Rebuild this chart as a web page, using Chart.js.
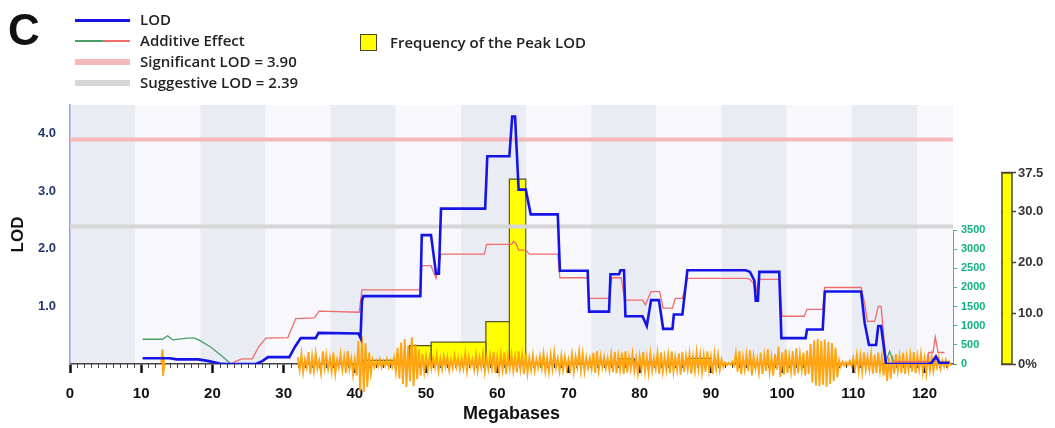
<!DOCTYPE html>
<html>
<head>
<meta charset="utf-8">
<script src="https://cdn.jsdelivr.net/npm/chart.js@4.4.0/dist/chart.umd.min.js"></script>
<style>
  body { margin: 0; background: #fff; }
  #wrap { position: relative; width: 1055px; height: 428px; }
  #qtlChart { position: absolute; left: 0; top: 0; }
  .panel { position: absolute; left: 8px; top: 8px; font: bold 44px "Liberation Sans", Arial, sans-serif; line-height: 44px; color: #111; }
  .key { position: absolute; left: 140px; font: 600 15px "Open Sans", sans-serif; line-height: 21px; color: #222; white-space: nowrap; }
  .swatch { position: absolute; left: 75px; width: 55px; }
  .box { position: absolute; left: 360px; top: 34px; width: 15px; height: 15px; background: #ffff00; border: 1.5px solid #4a4a22; }
</style>
</head>
<body>
<div id="wrap">
  <canvas id="qtlChart" width="1055" height="428"></canvas>
  <div class="panel">C</div>
  <div class="swatch" style="top:19px;height:3px;background:#1414e6"></div>
  <div class="key" style="top:9px">LOD</div>
  <div class="swatch" style="top:40px;height:2px;background:linear-gradient(to right,#4b9e68 50%,#ef6b6b 50%)"></div>
  <div class="key" style="top:30px">Additive Effect</div>
  <div class="swatch" style="top:59px;height:6px;background:#f6b8b8"></div>
  <div class="key" style="top:51px">Significant LOD = 3.90</div>
  <div class="swatch" style="top:80px;height:6px;background:#d6d6d6"></div>
  <div class="key" style="top:72px">Suggestive LOD = 2.39</div>
  <div class="box"></div>
  <div class="key" style="left:390px;top:32px">Frequency of the Peak LOD</div>
</div>
<script>
// values
const xTicks = [0, 10, 20, 30, 40, 50, 60, 70, 80, 90, 100, 110, 120];
const lodTicks = [1, 2, 3, 4];
const effectTicks = [0, 500, 1000, 1500, 2000, 2500, 3000, 3500];
const freqTicks = [0, 10, 20, 30, 37.5];
const significantLod = 3.90;
const suggestiveLod = 2.39;

// alternating background bins (Mb)
const bandEdges = [0, 9.15, 18.3, 27.45, 36.6, 45.75, 54.9, 64.05, 73.2, 82.35, 91.5, 100.65, 109.8, 118.95, 124];

// LOD profile [Mb, LOD]
const lodTrace = [
  [10.2, 0.10], [14.0, 0.10], [15.0, 0.08], [18.0, 0.08], [19.5, 0.05], [21.0, 0.01], [22.0, 0],
  [26.1, 0], [27.0, 0.05], [27.8, 0.12], [30.8, 0.12], [31.6, 0.30], [32.4, 0.45], [34.5, 0.45],
  [34.9, 0.54], [40.5, 0.53], [40.8, 0.45], [41.0, 1.10], [41.2, 1.18], [49.2, 1.18], [49.4, 2.24],
  [50.7, 2.24], [51.4, 1.57], [51.8, 1.57], [52.1, 2.70], [58.3, 2.70], [58.6, 3.61], [61.7, 3.61],
  [62.1, 4.30], [62.5, 4.30], [63.0, 3.03], [64.0, 3.03], [64.7, 2.60], [68.5, 2.60], [68.8, 1.62],
  [72.7, 1.62], [72.9, 0.91], [75.7, 0.91], [75.9, 1.56], [77.1, 1.56], [77.3, 1.63], [77.8, 1.63],
  [78.0, 0.83], [80.4, 0.83], [81.0, 0.66], [81.6, 1.11], [82.7, 1.11], [83.3, 0.61], [84.6, 0.61],
  [84.8, 0.86], [86.0, 0.86], [86.7, 1.63], [94.9, 1.63], [95.5, 1.60], [96.1, 1.45], [96.3, 1.10],
  [96.6, 1.10], [96.8, 1.60], [99.6, 1.60], [99.9, 0.45], [103.3, 0.45], [103.5, 0.60], [105.7, 0.60],
  [106.0, 1.26], [111.1, 1.26], [111.6, 0.71], [112.2, 0.33], [113.2, 0.33], [113.5, 0.66], [113.9, 0.66],
  [114.6, 0], [120.4, 0], [121.0, 0.02], [121.6, 0.13], [122.1, 0.02], [123.5, 0.02]
];

// additive effect [Mb, effect]
const additiveTrace = [
  [10.2, 646], [13.0, 646], [13.7, 736], [14.4, 631], [16.5, 676], [17.5, 676], [18.2, 616],
  [19.8, 436], [21.4, 195], [22.6, 0], [23.5, 90], [24.2, 135], [25.6, 135], [26.5, 450],
  [27.5, 676], [30.6, 691], [31.7, 1187], [34.3, 1202], [35.0, 1382], [40.6, 1352], [41.0, 1937],
  [49.2, 1937], [49.4, 2568], [50.7, 2568], [51.4, 2238], [52.1, 2869], [58.2, 2869], [58.5, 3124],
  [62.0, 3124], [62.3, 3199], [62.6, 3154], [63.0, 2974], [64.0, 2974], [64.5, 2869], [68.5, 2869],
  [68.8, 2253], [72.7, 2253], [72.9, 1712], [75.7, 1712], [76.1, 2253], [77.4, 2253], [77.9, 1667],
  [80.4, 1667], [80.8, 1547], [81.6, 1893], [82.8, 1893], [83.3, 1457], [84.6, 1457], [85.0, 1712],
  [86.0, 1712], [86.7, 2238], [95.0, 2238], [95.5, 2208], [96.0, 2103], [96.3, 1847], [96.6, 2103],
  [96.9, 2208], [99.6, 2208], [100.0, 1247], [103.1, 1247], [103.5, 1427], [105.7, 1427], [106.0, 1998],
  [111.1, 1998], [111.6, 1577], [112.0, 1111], [113.0, 1111], [113.5, 1502], [113.9, 1502], [114.6, 75],
  [115.1, 330], [115.6, 75], [116.0, 60], [120.4, 60], [120.6, 300], [121.2, 300], [121.5, 706],
  [121.9, 300], [122.8, 300]
];
const negativeEffect = [[10.2, 22.6], [114.6, 115.6]];

// frequency of the peak LOD, % per bin
const peakBinStart = [41.2, 47.7, 50.7, 58.4, 61.7, 72.6, 76.9, 80.9, 86.8];
const peakBinEnd = [45.6, 50.7, 58.4, 61.7, 64.0, 76.9, 79.3, 82.5, 90.0];
const peakFreq = [0.7, 3.6, 4.3, 8.3, 36.3, 0.3, 1.0, 0.4, 1.1];

// orange signal: up/down swings every 0.5 Mb from 32 Mb
const snpStart = 32;
const snpUp = [
  180, 260, 120, 310, 200, 280, 90, 330, 240, 150, 300, 110, 260, 180, 340, 140,
  120, 600, 720, 540, 300, 110, 80, 120, 70, 130, 90, 160, 420, 560, 650, 480,
  700, 520, 380, 260, 200, 170, 150, 240, 130, 200, 180, 120, 220, 150, 140, 260,
  190, 120, 240, 170, 280, 150, 220, 310, 180, 260, 300, 200, 250, 190, 330, 220,
  280, 160, 230, 120, 200, 260, 150, 230, 300, 140, 210, 180, 120, 250, 190, 320,
  260, 170, 150, 290, 330, 200, 180, 140, 250, 320, 210, 300, 330, 180, 260, 150,
  200, 310, 170, 260, 150, 280, 300, 190, 240, 330, 180, 280, 320, 210, 260, 190,
  300, 240, 220, 330, 180, 260, 240, 120, 40, 30, 60, 280, 330, 180, 250, 360,
  200, 140, 300, 220, 380, 170, 260, 450, 300, 380, 220, 340, 410, 260, 300, 350,
  520, 620, 650, 600, 640, 580, 550, 420, 90, 60, 50, 80, 160, 240, 220, 300,
  180, 260, 240, 300, 200, 150, 170, 220, 260, 200, 300, 180, 240, 310, 210, 260,
  150, 280, 200, 120, 160, 90, 110, 60
];
const snpDown = [
  -150, -220, -90, -260, -180, -120, -240, -100, -130, -200, -260, -90, -160, -230, -120, -280,
  -300, -700, -730, -600, -250, -80, -60, -90, -50, -80, -70, -200, -380, -520, -600, -450,
  -580, -400, -300, -200, -150, -120, -90, -180, -130, -70, -160, -110, -80, -140, -120, -190,
  -60, -150, -170, -90, -200, -130, -110, -240, -190, -150, -260, -120, -180, -220, -140, -260,
  -230, -150, -170, -100, -120, -190, -210, -130, -90, -180, -160, -120, -140, -200, -80, -170,
  -190, -110, -130, -230, -170, -90, -120, -160, -210, -240, -150, -260, -220, -130, -180, -250,
  -140, -200, -230, -170, -120, -260, -190, -150, -240, -200, -160, -280, -210, -130, -250, -180,
  -140, -220, -200, -160, -260, -120, -150, -80, -30, -20, -40, -200, -260, -150, -180, -300,
  -120, -220, -260, -180, -200, -300, -150, -340, -280, -230, -190, -300, -240, -160, -300, -260,
  -480, -560, -580, -540, -600, -520, -450, -350, -60, -40, -30, -50, -120, -180, -200, -150,
  -140, -250, -230, -180, -300, -440, -380, -250, -180, -230, -260, -150, -200, -240, -130, -210,
  -240, -160, -180, -90, -120, -70, -80, -40
];
const snpSpike = [[12.8, 40], [12.95, 380], [13.05, -320], [13.15, 200], [13.25, -90], [13.35, 20]];

const pts = arr => arr.map(([x, y]) => ({x, y}));

const snpPoints = [];
snpUp.forEach((v, i) => {
  snpPoints.push({x: snpStart + i * 0.5, y: v});
  snpPoints.push({x: snpStart + i * 0.5 + 0.25, y: snpDown[i]});
});

const isNegative = x => negativeEffect.some(([a, b]) => x >= a && x < b);

const binSets = peakFreq.map((f, i) => ({
  data: [{x: peakBinStart[i], y: 0}, {x: peakBinStart[i], y: f}, {x: peakBinEnd[i], y: f}, {x: peakBinEnd[i], y: 0}],
  yAxisID: 'y3',
  borderColor: '#55552b',
  borderWidth: 1.2,
  backgroundColor: '#ffff00',
  fill: 'origin',
  pointRadius: 0,
  order: 5
}));

const decor = {
  id: 'decor',
  beforeDraw(chart) {
    const {ctx, chartArea: a, scales: {x}} = chart;
    ctx.save();
    for (let i = 0; i < bandEdges.length - 1; i++) {
      const l = x.getPixelForValue(bandEdges[i]);
      const r = x.getPixelForValue(bandEdges[i + 1]);
      ctx.fillStyle = i % 2 ? '#f8f8fc' : '#eaecf4';
      ctx.fillRect(l, a.top, r - l, a.bottom - a.top);
    }
    ctx.restore();
  },
  beforeDatasetsDraw(chart) {
    const {ctx, chartArea: a, scales: {x}} = chart;
    ctx.save();
    ctx.strokeStyle = '#444';
    ctx.lineWidth = 1;
    for (let v = 1; v < 124; v++) {
      if (v % 10 === 0) continue;
      const px = Math.round(x.getPixelForValue(v)) + 0.5;
      ctx.beginPath();
      ctx.moveTo(px, a.bottom);
      ctx.lineTo(px, a.bottom + 4);
      ctx.stroke();
    }
    ctx.restore();
  },
  afterDraw(chart) {
    const {ctx, scales: {y2, y3}} = chart;
    ctx.save();
    ctx.strokeStyle = '#3bbf8f';
    ctx.lineWidth = 1;
    ctx.beginPath();
    ctx.moveTo(y2.left + 0.5, y2.getPixelForValue(3500));
    ctx.lineTo(y2.left + 0.5, y2.getPixelForValue(0));
    ctx.stroke();
    const top = y3.getPixelForValue(37.5), bot = y3.getPixelForValue(0);
    ctx.fillStyle = '#ffff00';
    ctx.fillRect(y3.left + 1, top, 10, bot - top);
    ctx.strokeStyle = '#4a4a22';
    ctx.lineWidth = 1.5;
    ctx.strokeRect(y3.left + 1, top, 10, bot - top);
    ctx.restore();
  }
};

new Chart(document.getElementById('qtlChart'), {
  type: 'line',
  data: {
    datasets: [
      {
        label: 'LOD',
        data: pts(lodTrace),
        yAxisID: 'y',
        borderColor: '#1414e6',
        borderWidth: 2.6,
        pointRadius: 0,
        order: 0
      },
      {
        label: 'Additive Effect',
        data: pts(additiveTrace),
        yAxisID: 'y2',
        borderColor: '#ef6b6b',
        borderWidth: 1.3,
        pointRadius: 0,
        segment: { borderColor: c => isNegative(c.p0.parsed.x) ? '#4b9e68' : '#ef6b6b' },
        order: 1
      },
      {
        label: 'Significant LOD = 3.90',
        data: [{x: 0, y: significantLod}, {x: 124, y: significantLod}],
        yAxisID: 'y',
        borderColor: '#f6b8b8',
        borderWidth: 4,
        pointRadius: 0,
        order: 2
      },
      {
        label: 'Suggestive LOD = 2.39',
        data: [{x: 0, y: suggestiveLod}, {x: 124, y: suggestiveLod}],
        yAxisID: 'y',
        borderColor: '#d6d6d6',
        borderWidth: 4,
        pointRadius: 0,
        order: 2
      },
      {
        data: snpPoints,
        yAxisID: 'y2',
        borderColor: '#ffa412',
        borderWidth: 1.9,
        pointRadius: 0,
        clip: false,
        order: 3
      },
      {
        data: pts(snpSpike),
        yAxisID: 'y2',
        borderColor: '#ffa412',
        borderWidth: 1.6,
        pointRadius: 0,
        clip: false,
        order: 3
      },
      ...binSets
    ]
  },
  options: {
    responsive: false,
    animation: false,
    devicePixelRatio: 1,
    layout: { padding: { top: 105, right: 0, bottom: 0, left: 0 } },
    plugins: { legend: { display: false }, tooltip: { enabled: false } },
    scales: {
      x: {
        type: 'linear',
        min: 0,
        max: 124,
        afterBuildTicks: s => { s.ticks = xTicks.map(v => ({value: v})); },
        afterFit: s => { s.height = 64; },
        grid: { drawOnChartArea: false, drawTicks: true, tickLength: 9, tickWidth: 2.5, tickColor: '#111' },
        border: { display: true, color: '#444', width: 1.5 },
        ticks: { padding: 12, color: '#111', maxRotation: 0, autoSkip: false, font: { family: 'Liberation Sans, Arial', size: 15, weight: 'bold' } },
        title: { display: true, text: 'Megabases', color: '#111', padding: { top: 0, bottom: 3 }, font: { family: 'Liberation Sans, Arial', size: 18, weight: 'bold' } }
      },
      y: {
        position: 'left',
        min: 0,
        max: 4.5,
        afterBuildTicks: s => { s.ticks = lodTicks.map(v => ({value: v})); },
        afterFit: s => { s.width = 70; },
        grid: { drawOnChartArea: false, drawTicks: false },
        border: { display: true, color: '#9a9ae8', width: 1.5 },
        ticks: { padding: 14, color: '#233a6b', callback: v => v.toFixed(1), font: { family: 'Liberation Sans, Arial', size: 13, weight: 'bold' } },
        title: { display: true, text: 'LOD', color: '#111', padding: { top: 8, bottom: 0 }, font: { family: 'Liberation Sans, Arial', size: 17, weight: 'bold' } }
      },
      y2: {
        position: 'right',
        min: 0,
        max: 6765,
        afterBuildTicks: s => { s.ticks = effectTicks.map(v => ({value: v})); },
        afterFit: s => { s.width = 48; },
        grid: { drawOnChartArea: false, drawTicks: true, tickLength: 4, tickWidth: 1, tickColor: '#3bbf8f' },
        border: { display: false },
        ticks: { padding: 4, color: '#14b082', callback: v => String(v), font: { family: 'Liberation Sans Narrow, Liberation Sans, Arial', size: 11, weight: 'bold' } }
      },
      y3: {
        position: 'right',
        min: 0,
        max: 50.85,
        afterBuildTicks: s => { s.ticks = freqTicks.map(v => ({value: v})); },
        afterFit: s => { s.width = 54; },
        grid: { drawOnChartArea: false, drawTicks: true, tickLength: 15, tickWidth: 1.5, tickColor: '#444' },
        border: { display: false },
        ticks: { padding: 2, color: '#333', callback: v => v === 0 ? '0%' : v.toFixed(1), font: { family: 'Liberation Sans, Arial', size: 13, weight: 'bold' } }
      }
    }
  },
  plugins: [decor]
});
</script>
</body>
</html>
